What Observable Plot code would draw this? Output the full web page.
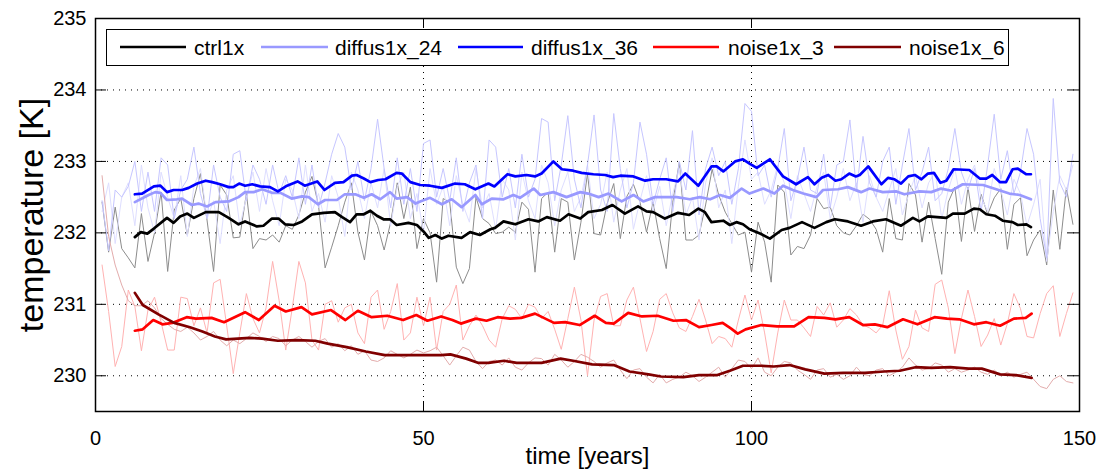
<!DOCTYPE html>
<html><head><meta charset="utf-8">
<script src="https://cdn.jsdelivr.net/npm/d3@7"></script>
<script src="https://cdn.jsdelivr.net/npm/@observablehq/plot@0.6"></script>
<style>
body{margin:0;background:#fff;}
#wrap{position:relative;width:1099px;height:470px;font-family:"Liberation Sans",Arial,sans-serif;}
#legend{position:absolute;left:106px;top:29px;width:903px;height:37px;border:1.5px solid #000;background:#fff;box-sizing:border-box;}
#legend svg{position:absolute;left:0;top:0;}
</style></head><body><div id="wrap"></div>
<script>
// ---- data ----
const seriesNames = ["ctrl1x", "diffus1x_24", "diffus1x_36", "noise1x_3", "noise1x_6"];
const xTicks = [0, 50, 100, 150];
const yTicks = [230, 231, 232, 233, 234, 235];
const xGrid = [50, 100];
const yGrid = [230, 231, 232, 233, 234];

// annual values, years 1..149
const ctrlRaw = [
232.43,231.73,232.36,231.78,231.65,231.51,232.27,231.60,232.00,232.57,
231.46,232.32,232.48,231.97,232.48,232.83,232.18,231.46,232.67,232.53,
231.93,231.94,232.55,231.78,231.92,231.90,231.97,231.87,232.10,232.05,
232.25,232.57,232.79,232.38,231.51,231.80,232.10,232.43,232.70,232.01,
231.62,232.30,232.10,231.76,232.15,232.70,232.20,232.64,231.78,232.20,
232.00,231.31,232.48,232.43,231.52,231.29,231.50,232.50,232.20,232.13,
231.99,232.01,232.08,232.01,232.43,232.33,231.45,232.48,232.57,231.73,
232.48,232.43,231.62,232.15,232.83,231.99,231.97,232.41,232.69,231.92,
232.51,232.68,232.43,232.01,232.43,231.92,231.50,232.43,232.99,231.90,
231.90,231.97,232.39,232.89,232.53,232.29,232.13,231.97,232.01,231.45,
232.15,231.87,231.31,232.67,232.57,231.69,231.81,231.78,231.97,232.48,
232.34,232.36,232.10,232.00,231.97,232.10,232.26,232.19,232.05,231.73,
232.48,231.92,231.90,232.69,232.53,231.87,232.43,231.92,231.42,232.43,
232.64,231.88,232.64,232.02,232.54,232.26,232.49,232.62,231.77,232.40,
232.49,231.68,231.90,232.04,231.55,232.60,231.77,232.63,232.12];
const diffus24Raw = [
232.30,232.70,231.85,232.50,232.70,232.10,232.95,232.35,232.00,232.85,
232.50,232.20,232.80,231.95,232.65,232.90,232.20,232.45,231.85,232.60,
232.80,232.10,232.50,232.85,232.30,232.90,232.45,232.10,232.75,232.60,
232.20,232.95,232.30,232.55,232.15,232.80,232.50,231.95,232.85,232.60,
232.20,232.70,232.35,232.90,232.10,232.65,232.85,232.20,232.55,232.00,
232.90,232.40,232.65,232.10,232.80,232.40,232.15,232.90,232.35,232.55,
232.05,232.75,232.60,231.90,232.85,232.45,232.20,232.95,232.70,232.10,
232.60,232.85,232.30,232.50,232.95,232.20,232.40,232.85,232.15,232.60,
232.90,232.05,232.45,232.80,232.30,232.65,232.10,232.55,232.90,232.25,
232.50,231.90,232.70,233.05,232.35,232.60,231.85,232.65,233.30,232.75,
232.85,232.40,232.60,232.95,232.70,232.20,232.80,232.55,232.30,232.65,
232.85,232.20,232.50,232.90,232.45,232.70,232.15,232.80,232.50,232.30,
232.60,232.90,232.25,232.55,232.80,232.35,232.70,232.85,232.20,232.60,
232.90,232.40,232.75,232.95,232.50,232.30,232.90,232.60,232.25,232.75,
232.55,232.10,232.40,232.75,231.60,232.30,232.80,232.60,232.95];
const diffus36Raw = [
232.45,231.75,232.60,232.50,232.65,233.00,232.30,232.85,232.30,233.05,
232.95,232.20,232.60,232.75,233.20,232.55,232.20,232.95,232.50,232.30,
233.10,233.15,232.45,232.95,232.75,232.40,232.95,232.55,232.80,232.50,
233.05,232.40,232.95,232.35,232.70,233.10,233.39,233.20,232.60,233.00,
232.45,232.90,233.59,232.90,232.35,233.05,232.40,232.90,232.30,233.25,
233.30,232.50,232.90,232.45,233.05,232.30,232.70,232.95,232.20,233.30,
233.20,232.50,232.90,232.35,233.10,232.50,232.75,233.60,233.55,232.45,
232.95,233.64,232.75,232.35,232.95,233.65,232.60,232.30,233.67,232.90,
232.35,232.70,233.55,233.10,232.40,232.75,233.05,232.30,233.00,232.60,
233.43,232.25,232.90,233.20,232.80,233.00,232.40,232.90,233.81,233.70,
232.80,232.95,232.50,232.90,233.46,232.45,232.75,233.20,232.60,232.55,
233.10,232.35,232.95,233.00,233.58,232.60,233.35,232.70,232.50,233.00,
233.20,232.40,232.95,233.46,232.60,232.85,233.20,232.45,232.55,232.90,
233.46,232.85,232.60,232.90,232.30,232.95,233.66,232.75,233.15,232.55,
232.85,233.46,233.10,232.20,231.65,233.88,232.70,232.50,233.10];
const noise3Raw = [
231.55,230.90,230.13,230.41,231.20,230.97,230.35,230.92,231.10,230.75,
230.36,230.36,231.10,231.08,230.70,230.95,230.60,231.30,231.35,230.70,
230.03,230.60,231.15,230.80,230.60,230.95,231.60,231.05,230.36,230.95,
231.60,231.30,230.50,230.36,231.00,231.05,230.75,230.95,231.00,230.60,
230.45,231.10,231.20,230.65,230.90,231.29,230.50,230.60,231.10,230.70,
231.10,230.36,230.90,231.00,231.27,230.50,230.70,230.85,230.70,230.50,
230.40,230.80,230.98,230.93,230.80,231.00,230.96,230.80,230.90,230.65,
230.37,230.80,231.24,230.78,230.00,230.78,231.11,231.15,230.70,230.70,
231.06,231.24,230.80,230.34,230.62,231.07,231.15,230.88,230.67,230.62,
230.83,231.07,230.78,230.45,230.55,230.52,230.40,230.78,231.13,230.78,
231.06,230.60,230.04,230.60,231.06,230.78,230.78,230.67,230.55,230.97,
230.85,231.02,230.68,230.78,230.94,230.85,230.71,230.67,230.60,230.71,
231.19,230.64,230.23,230.41,230.92,230.67,230.62,231.28,231.34,230.95,
230.31,230.80,231.20,230.83,230.41,230.57,230.80,230.43,230.73,231.15,
230.94,230.55,230.53,230.87,231.15,231.26,230.55,230.87,231.16];
const noise6Raw = [
232.80,231.95,231.55,231.27,231.05,230.98,230.98,231.05,230.95,230.80,
230.72,230.65,230.62,230.68,230.60,230.50,230.55,230.62,230.50,230.42,
230.50,230.45,230.52,230.60,230.55,230.48,230.55,230.52,230.42,230.50,
230.55,230.48,230.40,230.48,230.52,230.40,230.45,230.35,230.42,230.30,
230.35,230.22,230.20,230.25,230.35,230.30,230.25,230.30,230.36,230.32,
230.35,230.40,230.28,230.15,230.28,230.40,230.36,230.20,230.10,230.20,
230.22,230.15,230.25,230.12,230.08,230.18,230.25,230.24,230.15,230.30,
230.22,230.12,230.20,230.30,230.26,230.20,230.12,230.18,230.22,230.08,
229.96,230.08,230.10,229.98,229.90,230.02,229.90,229.95,229.98,230.05,
230.00,229.92,229.98,230.05,230.12,229.98,230.10,230.22,230.20,230.10,
230.25,230.05,230.00,230.12,230.20,230.18,230.08,230.02,229.95,230.08,
230.10,229.98,230.02,229.95,230.00,230.12,230.02,230.00,230.08,230.10,
230.00,230.05,230.12,230.25,230.15,230.08,230.10,230.18,230.15,230.05,
230.10,230.05,230.08,230.12,230.05,230.02,230.08,230.00,230.05,229.98,
230.02,230.05,229.95,229.85,229.82,229.95,230.00,229.92,229.90];

// smoothed (running mean) curves, read at the listed times
const ctrlSmoothT = [6,6.9,7.9,8.9,10.9,11.9,12.9,14,15,16.8,18.8,20.3,21.8,22.8,24.6,25.6,26.9,27.9,28.9,30.2,31.5,33,34.8,36.5,37.6,38.8,39.8,40.9,41.9,42.9,43.9,44.9,45.9,47.7,49,50,50.8,51.8,52.8,53.8,55.8,57.1,58.6,60.2,60.9,62.2,64,66,67.5,68.8,70.8,72.1,73.9,75.1,77.2,78.8,80.7,82.7,84,85,86.8,88.8,90.5,91.9,92.9,93.9,95.7,96.7,97.7,98.7,99.7,101.3,102.8,104.6,105.8,107.7,109.6,111.4,112.7,114.7,116.7,118.5,120.5,122.8,124.6,125.6,126.9,129.7,130.7,132.5,133.9,134.8,135.8,137.1,138.3,139.8,140.6,141.9,142.6];
const ctrlSmooth = [231.94,232.01,231.99,232.06,232.21,232.14,232.23,232.27,232.21,232.29,232.29,232.21,232.12,232.16,232.09,232.10,232.20,232.20,232.12,232.11,232.16,232.26,232.28,232.29,232.22,232.15,232.26,232.26,232.31,232.24,232.19,232.19,232.11,232.14,232.11,232.02,231.93,231.97,231.92,231.96,231.93,232.01,231.97,232.05,232.07,232.16,232.12,232.19,232.16,232.22,232.17,232.26,232.20,232.29,232.32,232.39,232.27,232.37,232.30,232.29,232.20,232.28,232.25,232.34,232.29,232.15,232.17,232.11,232.15,232.12,232.05,231.99,231.92,232.04,232.07,232.15,232.07,232.15,232.19,232.16,232.10,232.16,232.19,232.10,232.21,232.16,232.23,232.21,232.27,232.27,232.34,232.33,232.26,232.24,232.17,232.15,232.11,232.12,232.08];
const diffus24SmoothT = [6,8.1,9.1,9.9,10.9,12.4,13.2,14.7,15.7,17,18.3,20.3,21.8,22.8,24.1,25.4,26.9,28.2,29.9,31.5,32.5,33.9,35,36.8,38,39.6,40.9,42.1,43.4,44.9,45.9,47.5,48.8,49.5,51,52.8,54.3,55.8,57.9,58.9,60.4,62.2,63.7,64.7,66.8,67.8,69.8,71.8,73.9,75.1,76.7,78.2,80.2,82,83.5,85.3,88.6,90.6,92.1,93.7,95.2,96.7,98.5,99.7,101.8,103.5,104.8,106.3,107.9,109.9,110.9,113.2,114.7,116.7,118,120,122.1,123.3,125.6,127.4,128.9,130.5,132.2,135.3,137.3,139.3,140.9,142.6];
const diffus24Smooth = [232.43,232.53,232.57,232.56,232.46,232.47,232.48,232.39,232.41,232.37,232.43,232.44,232.50,232.57,232.57,232.61,232.56,232.56,232.48,232.51,232.50,232.40,232.46,232.46,232.54,232.54,232.49,232.54,232.47,232.57,232.48,232.50,232.41,232.44,232.49,232.40,232.47,232.36,232.53,232.40,232.48,232.47,232.53,232.49,232.62,232.53,232.57,232.50,232.57,232.55,232.50,232.55,232.44,232.53,232.44,232.50,232.50,232.47,232.50,232.47,232.53,232.49,232.62,232.55,232.62,232.55,232.66,232.60,232.55,232.50,232.60,232.61,232.64,232.57,232.62,232.57,232.58,232.54,232.58,232.57,232.62,232.59,232.68,232.67,232.61,232.55,232.53,232.47];
const diffus36SmoothT = [6,7.1,8.9,9.9,10.9,11.9,13.2,14.2,15.5,16.8,17.8,19,20.3,21,21.9,22.8,23.9,25.1,26.6,27.8,29.2,30.8,31.9,33.8,34.9,36.5,37.8,39.1,39.8,40.9,41.9,43.1,44.2,45.9,46.7,48,49.5,51,52.8,54.8,56.3,57.9,59.9,60.8,62.8,64,65.7,67,68,69.8,71.1,72.8,74.1,75.9,77.7,78.9,80,82,83.8,85,87,88.8,89.9,91.9,93.9,94.7,95.7,97.5,98.7,99.7,100.8,102.8,104.8,106.8,108.6,109.6,110.7,111.7,112.8,113.7,114.9,115.9,116.5,117.8,119.8,120.8,121.8,122.8,123.9,124.9,125.9,126.9,127.8,128.8,129.7,130.8,133.2,134.8,135.8,136.7,137.9,138.8,139.8,140.6,141.9,142.6];
const diffus36Smooth = [232.54,232.55,232.65,232.66,232.57,232.60,232.60,232.63,232.69,232.73,232.71,232.68,232.64,232.64,232.69,232.66,232.68,232.65,232.64,232.58,232.66,232.72,232.66,232.72,232.60,232.70,232.71,232.80,232.81,232.76,232.71,232.74,232.75,232.84,232.83,232.71,232.67,232.66,232.63,232.69,232.68,232.61,232.69,232.65,232.82,232.79,232.81,232.79,232.83,233.00,232.89,232.87,232.84,232.82,232.81,232.78,232.80,232.79,232.73,232.75,232.75,232.72,232.83,232.66,232.93,232.93,232.86,233.00,233.03,232.97,232.91,233.03,232.79,232.68,232.78,232.68,232.77,232.81,232.73,232.75,232.83,232.79,232.81,232.93,232.68,232.77,232.75,232.69,232.79,232.81,232.75,232.83,232.84,232.70,232.73,232.89,232.88,232.76,232.76,232.81,232.71,232.71,232.89,232.90,232.82,232.82];
const noise3SmoothT = [6,7.2,8.8,10.2,11.7,13.9,15.3,17.7,19.6,22.8,24.9,27.3,29,31.4,33,35.9,38.1,40,42.1,44.5,46.9,48.9,50.6,52.7,54.4,55.7,58,59.6,61.3,63.2,64.9,67,69.9,71.6,73.8,76.1,77.8,79,81.2,83.3,85.7,88.1,90,92,93.9,95.6,96.9,97.9,99.1,101.5,103.9,106.5,108.7,111.1,112.8,114.9,117,118.8,120.7,123.1,125.3,127.9,129.8,131.7,133.9,135.8,137.9,140,141.8,142.7];
const noise3Smooth = [230.63,230.65,230.78,230.72,230.74,230.82,230.80,230.81,230.75,230.89,230.78,230.98,230.90,230.96,230.86,230.92,230.78,230.91,230.82,230.84,230.78,230.85,230.77,230.83,230.78,230.73,230.80,230.77,230.82,230.80,230.81,230.87,230.74,230.75,230.71,230.84,230.74,230.73,230.88,230.83,230.84,230.77,230.78,230.68,230.71,230.74,230.66,230.59,230.65,230.71,230.69,230.69,230.82,230.81,230.79,230.82,230.71,230.72,230.68,230.79,230.72,230.82,230.80,230.79,230.72,230.75,230.70,230.80,230.81,230.87];
const noise6SmoothT = [6,7.2,9.6,12,14.4,16.3,18.2,19.9,23.5,25.4,27.8,30.7,33.5,35.4,38.3,41.2,44.1,46.9,49.8,52.7,54.1,56.5,58.4,59.9,62.3,64.2,68,70.9,72.8,75.7,79,81.4,84.3,86.2,89.6,92,94.8,96.7,98.7,101.5,103.4,105.8,108.2,111.1,114,117.3,120.2,122.6,125,127.4,130.3,133.1,135.1,137.9,140.3,142.7];
const noise6Smooth = [231.16,230.99,230.86,230.74,230.68,230.62,230.55,230.51,230.53,230.52,230.49,230.50,230.49,230.45,230.40,230.34,230.29,230.29,230.29,230.29,230.30,230.24,230.18,230.18,230.21,230.18,230.18,230.24,230.21,230.16,230.15,230.06,230.02,229.99,229.98,230.01,230.01,230.07,230.14,230.14,230.13,230.15,230.09,230.03,230.04,230.04,230.06,230.07,230.12,230.11,230.12,230.10,230.10,230.02,230.01,229.97];

// ---- styles ----
const smoothColors = ["#000000", "#9999ff", "#0000ff", "#ff0000", "#800000"];
const rawColors = ["#8c8c8c", "#dedeff", "#c6c6ff", "#ffb2b2", "#e3acac"];

const years = ctrlRaw.map((_, i) => i + 1);
const rows = (T, V) => T.map((t, i) => ({t, v: V[i]}));
const raws = [ctrlRaw, diffus24Raw, diffus36Raw, noise3Raw, noise6Raw].map(V => rows(years, V));
const smooths = [
  rows(ctrlSmoothT, ctrlSmooth), rows(diffus24SmoothT, diffus24Smooth),
  rows(diffus36SmoothT, diffus36Smooth), rows(noise3SmoothT, noise3Smooth),
  rows(noise6SmoothT, noise6Smooth)];

const FONT = "Liberation Sans, Arial, Helvetica, sans-serif";
const chart = Plot.plot({
  width: 1099, height: 470,
  marginLeft: 95, marginRight: 20, marginTop: 18, marginBottom: 59,
  style: {fontFamily: FONT, background: "white", color: "black"},
  x: {domain: [0, 150], label: null},
  y: {domain: [229.5, 235], label: null},
  marks: [
    Plot.ruleY(yGrid, {stroke: "black", strokeWidth: 1, strokeDasharray: "1,5"}),
    Plot.ruleX(xGrid, {stroke: "black", strokeWidth: 1, strokeDasharray: "1,5"}),
    ...raws.map((d, i) => Plot.line(d, {x: "t", y: "v", stroke: rawColors[i], strokeWidth: 1})),
    ...smooths.map((d, i) => Plot.line(d, {x: "t", y: "v", stroke: smoothColors[i], strokeWidth: 2.7})),
    Plot.frame({stroke: "black", strokeWidth: 1.5}),
    Plot.tickY(yTicks, {y: d => d, insetRight: 973, stroke: "black"}),
    Plot.tickY(yTicks, {y: d => d, insetLeft: 973, stroke: "black"}),
    Plot.tickX(xTicks, {x: d => d, insetTop: 383, stroke: "black"}),
    Plot.tickX(xTicks, {x: d => d, insetBottom: 383, stroke: "black"}),
    Plot.axisX({ticks: xTicks, tickSize: 0, tickPadding: 19, fontSize: 20, label: null, tickFormat: d => String(d)}),
    Plot.axisY({ticks: yTicks, tickSize: 0, tickPadding: 9, fontSize: 20, label: null, tickFormat: d => String(d)}),
    Plot.text(["time [years]"], {text: d => d, frameAnchor: "bottom", dy: 52, fontSize: 24}),
    Plot.text(["temperature [K]"], {text: d => d, frameAnchor: "left", textAnchor: "middle", rotate: -90, dx: -63, fontSize: 34})
  ]
});
const wrap = document.getElementById("wrap");
wrap.appendChild(chart);

// legend box
const legendX = [[13, 79, 87], [154, 221, 228], [351, 416, 424], [546, 612, 621], [727, 794, 802]];
const leg = document.createElement("div");
leg.id = "legend";
const ns = "http://www.w3.org/2000/svg";
const svg = document.createElementNS(ns, "svg");
svg.setAttribute("width", 903); svg.setAttribute("height", 37);
seriesNames.forEach((name, i) => {
  const [a, b, tx] = legendX[i];
  const ln = document.createElementNS(ns, "line");
  ln.setAttribute("x1", a); ln.setAttribute("x2", b);
  ln.setAttribute("y1", 17); ln.setAttribute("y2", 17);
  ln.setAttribute("stroke", smoothColors[i]); ln.setAttribute("stroke-width", 2.5);
  svg.appendChild(ln);
  const t = document.createElementNS(ns, "text");
  t.setAttribute("x", tx); t.setAttribute("y", 25);
  t.setAttribute("font-family", FONT); t.setAttribute("font-size", 21);
  t.textContent = name;
  svg.appendChild(t);
});
leg.appendChild(svg);
wrap.appendChild(leg);
</script></body></html>
